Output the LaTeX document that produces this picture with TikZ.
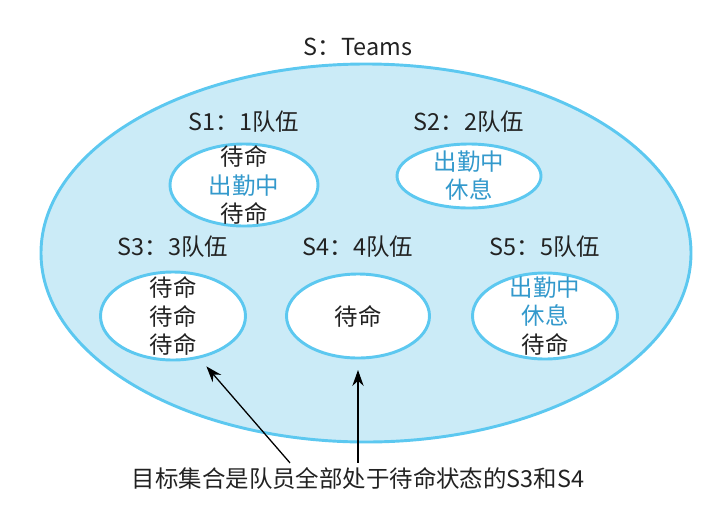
\documentclass[tikz,border=0pt]{standalone}
\usepackage{fontspec}
\setmainfont{Noto Sans CJK SC}
\usetikzlibrary{arrows.meta, shapes.geometric}
\definecolor{setline}{HTML}{5CC8F0}
\definecolor{setfill}{HTML}{CBEBF7}
\definecolor{dutyblue}{HTML}{3399CC}
\definecolor{ink}{HTML}{222222}
\newcommand{\onduty}[1]{\textcolor{dutyblue}{#1}}

\begin{document}
\begin{tikzpicture}[x=0.03cm, y=-0.03cm, font=\fontsize{20}{24}\selectfont, text=ink, team/.style={ellipse, draw=setline, line width=2.5pt, fill=white, inner sep=0pt}, lab/.style={align=center}, arr/.style={-{Stealth[length=4.8mm, width=3.4mm, inset=1.6mm]}, line width=1.1pt}]
\useasboundingbox (0,0) rectangle (719,520);
\node (title) at (358,47) {S：Teams};
\node[ellipse, draw=setline, line width=2.5pt, fill=setfill, minimum width=19.5cm, minimum height=11.34cm] (all) at (366,253) {};
\foreach \n/\x/\y/\ly/\w/\h/\txt in {1/244/185/122/4.44/2.46/{待命\\\onduty{出勤中}\\待命}, 2/469/176/122/4.32/1.92/{\onduty{出勤中}\\\onduty{休息}}, 3/173/316/247/4.35/2.64/{待命\\待命\\待命}, 4/358/316/247/4.29/2.52/{待命}, 5/545/316/247/4.35/2.58/{\onduty{出勤中}\\\onduty{休息}\\待命}}{\node[team, minimum width=\w cm, minimum height=\h cm] (s\n) at (\x,\y) {};\node[lab] (t\n) at (s\n) {\txt};\node (l\n) at (\x,\ly) {S\n：{\n}队伍};}
\node (note) at (358,478) {目标集合是队员全部处于待命状态的S3和S4};
\draw[arr, shorten >=9pt] ([xshift=-2.04cm]note.north) -- (s3.-58);
\draw[arr, shorten >=9pt] (note.north -| s4) -- (s4.south);
\end{tikzpicture}
\end{document}
